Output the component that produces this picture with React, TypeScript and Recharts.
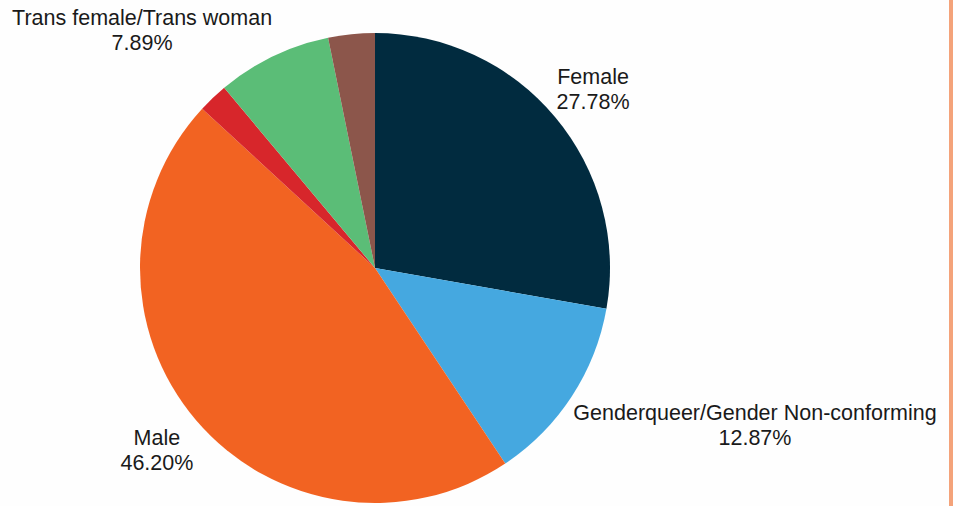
import React from 'react';
import { PieChart, Pie, Cell } from 'recharts';

const categories = [
  'Female',
  'Genderqueer/Gender Non-conforming',
  'Male',
  'Other',
  'Trans female/Trans woman',
  'Trans male/Trans man',
];
const values = [27.78, 12.87, 46.2, 2.06, 7.89, 3.2];
const labelShown = [true, true, true, false, true, false];
const colors = ['#012B3F', '#45A8E0', '#F26322', '#D7262B', '#5BBD77', '#8C564B'];

const data = categories.map((name, i) => ({ name, value: values[i], show: labelShown[i] }));

// label centre offsets relative to pie centre, in units of the outer radius
const labelOffset: Record<string, [number, number]> = {
  Female: [0.928, -0.762],
  'Genderqueer/Gender Non-conforming': [1.617, 0.668],
  Male: [-0.928, 0.774],
  'Trans female/Trans woman': [-0.991, -1.013],
};

const renderLabel = (props: any) => {
  const { cx, cy, outerRadius, name, value, payload } = props;
  if (!payload || !payload.show) return null;
  const off = labelOffset[name];
  if (!off) return null;
  const x = cx + off[0] * outerRadius;
  const y = cy + off[1] * outerRadius;
  return (
    <text
      x={x}
      y={y}
      textAnchor="middle"
      fill="#1A1A1A"
      fontFamily="'Liberation Sans', Arial, sans-serif"
      fontSize={21.5}
    >
      <tspan x={x} dy={-5}>{name}</tspan>
      <tspan x={x} dy={25}>{value.toFixed(2)}%</tspan>
    </text>
  );
};

export default function App() {
  return (
    <div style={{ position: 'fixed', left: 0, top: 0, width: 953, height: 506, background: '#FEFEFE' }}>
      <PieChart width={953} height={506} margin={{ top: 0, right: 0, bottom: 0, left: 0 }}>
        <Pie
          data={data}
          dataKey="value"
          nameKey="name"
          cx={375}
          cy={268}
          outerRadius={235}
          startAngle={90}
          endAngle={-270}
          stroke="none"
          label={renderLabel}
          labelLine={false}
          isAnimationActive={false}
        >
          {data.map((d, i) => (
            <Cell key={d.name} fill={colors[i]} />
          ))}
        </Pie>
      </PieChart>
      <div style={{ position: 'absolute', left: 949, top: 0, width: 4, height: 506, background: '#F4A37A' }} />
    </div>
  );
}
